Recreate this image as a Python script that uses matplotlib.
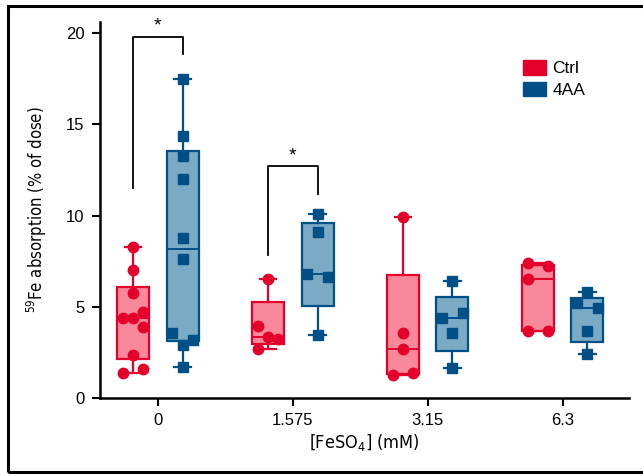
import numpy as np
import matplotlib.pyplot as plt
from matplotlib.patches import Patch, Rectangle
from matplotlib import font_manager

# data
conc_labels = ["0", "1.575", "3.15", "6.3"]

ctrl_vals = [
    [8.3, 7.0, 5.75, 4.4, 4.4, 4.7, 3.9, 2.35, 1.35, 1.6],
    [6.52, 3.95, 3.32, 3.23, 2.67],
    [9.93, 3.58, 2.67, 1.26, 1.39],
    [7.38, 7.23, 6.52, 3.69, 3.65],
]
aa_vals = [
    [17.5, 14.35, 13.26, 12.0, 8.77, 7.6, 3.55, 3.17, 2.9, 1.7],
    [10.08, 9.08, 6.78, 6.65, 3.45],
    [6.43, 4.4, 4.64, 3.54, 1.63],
    [5.79, 5.19, 4.91, 3.69, 2.41],
]

# horizontal spread of the dots (in slots)
ctrl_jit = [
    [0, 0, 0, -1, 0, 1, 1, 0, -1, 1],
    [0, -1, 0, 1, -1],
    [0, 0, 0, -1, 1],
    [-1, 1, -1, -1, 1],
]
aa_jit = [
    [0, 0, 0, 0, 0, 0, -1, 1, 0, 0],
    [0, 0, -1, 1, 0],
    [0, -1, 1, 0, 0],
    [0, -1, 1, 0, 0],
]

red = "#E4002B"
red_fill = "#F9889A"
blue = "#004F87"
blue_fill = "#7AAAC4"

plt.rcParams["font.family"] = ["Liberation Sans", "DejaVu Sans"]

# narrow font for the axis titles, if there is one
names = {f.name for f in font_manager.fontManager.ttflist}
if "Liberation Sans Narrow" in names:
    narrow = dict(family=["Liberation Sans Narrow", "DejaVu Sans"])
else:
    narrow = dict(family=["DejaVu Sans"], stretch="condensed")

fig = plt.figure(figsize=(6.43, 4.75), dpi=100)
ax = fig.add_axes([0.1555, 0.162, 0.8227, 0.7916])


def stats(vals):
    v = np.array(vals)
    q1, med, q3 = np.percentile(v, [25, 50, 75], method="weibull")
    return dict(med=med, q1=q1, q3=q3, whislo=v.min(), whishi=v.max(), fliers=[])


def draw_group(vals, jit, offset, edge, fill, marker):
    pos = np.arange(len(vals)) + offset
    ax.bxp([stats(v) for v in vals], positions=pos, widths=0.237,
           patch_artist=True, showfliers=False,
           boxprops=dict(facecolor=fill, edgecolor=edge, linewidth=1.6),
           whiskerprops=dict(color=edge, linewidth=1.6),
           capprops=dict(color=edge, linewidth=1.6),
           medianprops=dict(color=edge, linewidth=1.4),
           capwidths=0.12, zorder=2)
    for p, v, j in zip(pos, vals, jit):
        xs = p + np.array(j) * 0.075
        ax.plot(xs, v, ls="none", marker=marker, ms=7.5, color=edge,
                mec=edge, zorder=3, clip_on=False)


draw_group(ctrl_vals, ctrl_jit, -0.185, red, red_fill, "o")
draw_group(aa_vals, aa_jit, 0.182, blue, blue_fill, "s")

# significance brackets
def bracket(x1, x2, y1, y2, top):
    ax.plot([x1, x1, x2, x2], [y1, top, top, y2], color="black", lw=1.3,
            clip_on=False)
    ax.text((x1 + x2) / 2, top + 0.1, "*", ha="center", va="bottom",
            fontsize=14)

bracket(-0.185, 0.182, 11.5, 18.85, 19.8)
bracket(0.815, 1.182, 7.85, 11.2, 12.7)

ax.set_xlim(-0.43, 3.49)
ax.set_ylim(0, 20.6)
ax.set_yticks([0, 5, 10, 15, 20])
ax.set_xticks(range(4))
ax.set_xticklabels(conc_labels)
ax.tick_params(labelsize=12, width=1.5, length=6, direction="out")
ax.tick_params(axis="y", pad=5)
ax.tick_params(axis="x", pad=5)
for s in ["top", "right"]:
    ax.spines[s].set_visible(False)
for s in ["left", "bottom"]:
    ax.spines[s].set_linewidth(1.8)

ax.set_ylabel(r"$\mathregular{^{59}}$Fe absorption (% of dose)", fontsize=12,
              labelpad=12, **narrow)
ax.set_xlabel(r"[FeSO$\mathregular{_4}$] (mM)", fontsize=13,
              labelpad=3, **narrow)

handles = [Patch(facecolor=red, edgecolor=red, label="Ctrl"),
           Patch(facecolor=blue, edgecolor=blue, label="4AA")]
ax.legend(handles=handles, loc="upper left", bbox_to_anchor=(0.77, 0.94),
          frameon=False, fontsize=12.5, handlelength=1.3, handleheight=0.9,
          handletextpad=0.4, labelspacing=0.3)

# outer frame around the figure
fig.patches.append(Rectangle((0.012, 0.006), 1.05, 0.982, transform=fig.transFigure,
                             fill=False, edgecolor="black", linewidth=2.2))

fig.savefig("out.png", dpi=100)
